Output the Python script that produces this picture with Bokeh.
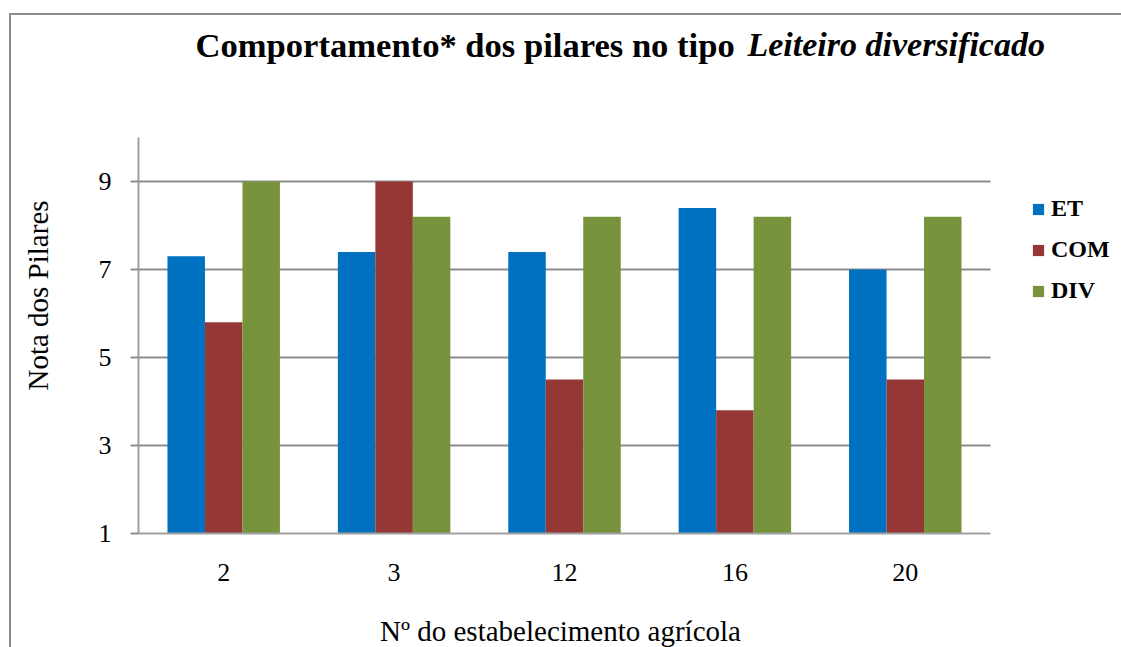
import math
from bokeh.plotting import figure
from bokeh.models import (Range1d, FixedTicker, Legend, LegendItem, Label,
                          ColumnDataSource, BoxAnnotation)
from bokeh.embed import file_html
from bokeh.resources import INLINE

# ---- data ----
categories = ["2", "3", "12", "16", "20"]
series_names = ["ET", "COM", "DIV"]
et_values = [7.3, 7.4, 7.4, 8.4, 7.0]
com_values = [5.8, 9.0, 4.5, 3.8, 4.5]
div_values = [9.0, 8.2, 8.2, 8.2, 8.2]
y_ticks = [1, 3, 5, 7, 9]
y_max = 10

colors = ["#0070C0", "#953735", "#77933C"]
SERIF = "Liberation Serif"
BORDER = "#8c8c8c"

W, H = 1121, 647
# layout of the plot area in pixels (left, right, bottom, top)
PL, PR, PB, PT = 138, 990, 533, 137
n = len(categories)
xppu = (PR - PL) / n
yppu = (PB - PT) / (y_max - y_ticks[0])

pos = list(range(1, n + 1))
x_start = 0.5 - PL / xppu
x_end = 0.5 + (W - PL) / xppu
y_start = y_ticks[0] - (H - PB) / yppu
y_end = y_ticks[0] + PB / yppu

p = figure(x_range=Range1d(x_start, x_end), y_range=Range1d(y_start, y_end),
           width=W, height=H, output_backend="svg", toolbar_location=None,
           min_border=0, min_border_left=0, min_border_right=0,
           min_border_top=0, min_border_bottom=0)
p.outline_line_color = None
p.background_fill_color = "white"
p.border_fill_color = "white"
p.xgrid.visible = False
p.ygrid.visible = False

# horizontal grid lines
grid_y = [t for t in y_ticks if t != y_ticks[0]]
p.segment(x0=[0.5] * len(grid_y), x1=[n + 0.5] * len(grid_y), y0=grid_y, y1=grid_y,
          line_color="#8c8c8c", line_width=2)

# bars
width = 0.22
offsets = [-width, 0.0, width]
values = [et_values, com_values, div_values]
renderers = []
for name, off, col, vals in zip(series_names, offsets, colors, values):
    src = ColumnDataSource(dict(x=[q + off for q in pos], top=vals, bottom=[y_ticks[0]] * n))
    r = p.vbar(x="x", top="top", bottom="bottom", width=width, source=src,
               fill_color=col, line_color=None)
    renderers.append(r)

# y axis
yax = p.yaxis[0]
yax.fixed_location = 0.5
yax.bounds = (y_ticks[0], y_max)
yax.ticker = FixedTicker(ticks=y_ticks)
yax.axis_line_color = "#a0a0a0"
yax.axis_line_width = 2
yax.major_tick_line_color = "#8c8c8c"
yax.major_tick_line_width = 2
yax.major_tick_out = 8
yax.major_tick_in = 0
yax.minor_tick_line_color = None
yax.major_label_text_font = SERIF
yax.major_label_text_font_size = "26px"
yax.major_label_text_color = "black"
yax.major_label_standoff = 19

# x axis
xax = p.xaxis[0]
xax.fixed_location = y_ticks[0]
xax.bounds = (0.5, n + 0.5)
xax.ticker = FixedTicker(ticks=pos)
xax.major_label_overrides = {q: c for q, c in zip(pos, categories)}
xax.axis_line_color = "#a0a0a0"
xax.axis_line_width = 2
xax.major_tick_line_color = None
xax.minor_tick_line_color = None
xax.major_label_text_font = SERIF
xax.major_label_text_font_size = "26px"
xax.major_label_text_color = "black"
xax.major_label_standoff = 24

# outer chart border (left and top edges visible), as thin filled strips
p.add_layout(BoxAnnotation(left=8.5, right=10.5, top=H - 12.5, bottom=-50,
                           left_units="screen", right_units="screen",
                           top_units="screen", bottom_units="screen",
                           fill_color=BORDER, fill_alpha=1, line_color=None))
p.add_layout(BoxAnnotation(left=8.5, right=W + 50, top=H - 12.5, bottom=H - 14.5,
                           left_units="screen", right_units="screen",
                           top_units="screen", bottom_units="screen",
                           fill_color=BORDER, fill_alpha=1, line_color=None))

# axis titles
p.add_layout(Label(x=37, y=H - 295, x_units="screen", y_units="screen",
                   text="Nota dos Pilares", angle=math.pi / 2, text_align="center",
                   text_baseline="middle", text_font=SERIF, text_font_size="29px",
                   text_color="black"))
p.add_layout(Label(x=560, y=H - 630, x_units="screen", y_units="screen",
                   text="Nº do estabelecimento agrícola", text_align="center",
                   text_baseline="alphabetic", text_font=SERIF, text_font_size="29px",
                   text_color="black"))

# title (two parts: bold + bold italic)
p.add_layout(Label(x=195, y=H - 44, x_units="screen", y_units="screen",
                   text="Comportamento* dos pilares no tipo", text_font=SERIF,
                   text_font_size="34.6px", text_font_style="bold", text_baseline="alphabetic",
                   text_color="black"))
p.add_layout(Label(x=747, y=H - 44, x_units="screen", y_units="screen",
                   text="Leiteiro diversificado", text_font=SERIF,
                   text_font_size="34px", text_font_style="bold italic",
                   text_baseline="alphabetic", text_color="black"))

legend = Legend(items=[LegendItem(label=nm, renderers=[r]) for nm, r in zip(series_names, renderers)],
                location=(1031, H - 304), border_line_color=None, background_fill_alpha=0,
                padding=0, margin=0, spacing=14, label_height=26, glyph_height=14, glyph_width=14,
                label_standoff=6, label_text_font=SERIF, label_text_font_size="24px",
                label_text_font_style="bold", label_text_color="black")
p.add_layout(legend)

open("out.html", "w").write(file_html(p, INLINE))
